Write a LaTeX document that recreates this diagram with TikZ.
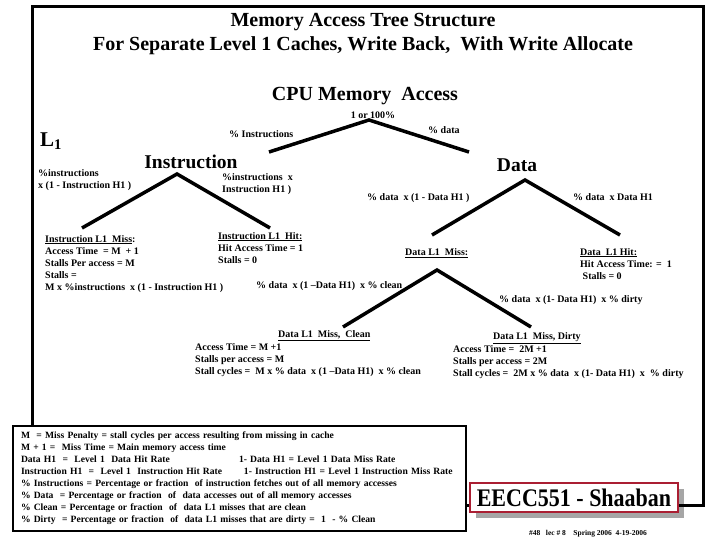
\documentclass[tikz,border=0pt]{standalone}
\usepackage{fontspec}
\setmainfont{Liberation Serif}
\usetikzlibrary{positioning,shadows}
\definecolor{boxred}{RGB}{170,30,50}
\tikzset{
  branch/.style={line width=3.5pt},
  txt/.style={font=\bfseries\fontsize{10}{12}\selectfont, inner sep=0pt, align=left},
  head/.style={font=\bfseries\fontsize{20}{24}\selectfont, inner sep=0pt},
  level/.style={font=\bfseries\fontsize{19.5}{22}\selectfont, inner sep=0pt},
}

\begin{document}
\begin{tikzpicture}[x=1pt,y=-1pt]
\useasboundingbox (0,0) rectangle (720,540);
% titles
\node[head] (title1) at (363,22) {Memory Access Tree Structure};
\node[head] (title2) at (363,46) {For Separate Level 1 Caches, Write Back,\ \ With Write Allocate};
\node[head] (cpu) at (365,96) {CPU Memory\ \ Access};
\node[txt] (all) at (373,115) {1 or 100\%};
\node[font=\bfseries\fontsize{21}{24}\selectfont, inner sep=0pt, anchor=west] (lone) at (40,141) {L$_{\mathbf 1}$};

% tree
\coordinate (root) at (369,120);
\coordinate (rootl) at (269,152);
\coordinate (rootr) at (469,152);
\coordinate (iapex) at (177,174);
\coordinate (imiss) at (82,228);
\coordinate (ihit) at (270,228);
\coordinate (dapex) at (525,180);
\coordinate (dmiss) at (432,235);
\coordinate (dhit) at (620,235);
\coordinate (mapex) at (437,270);
\coordinate (mclean) at (343,327);
\coordinate (mdirty) at (531,327);
\draw[branch] (rootl) -- (root) -- (rootr);
\draw[branch] (imiss) -- (iapex) -- (ihit);
\draw[branch] (dmiss) -- (dapex) -- (dhit);
\draw[branch] (mclean) -- (mapex) -- (mdirty);

\node[txt, anchor=west] (pinst) at (229,134) {\% Instructions};
\node[txt, anchor=west] (pdata) at (428,130) {\% data};
\node[level] (instr) at (191,162) {Instruction};
\node[level] (data) at (517,165) {Data};
\node[txt, anchor=north west] (pimiss) at (38,169) {\%instructions\\x (1 - Instruction H1 )};
\node[txt, anchor=north west] (pihit) at (222,173) {\%instructions\ \ x\\Instruction H1 )};
\node[txt, anchor=west] (pdmiss) at (367,198) {\% data\ \ x (1 - Data H1 )};
\node[txt, anchor=west] (pdhit) at (573,197) {\% data\ \ x Data H1};

% leaves
\node[txt, anchor=north west] (imissbox) at (45,235) {\underline{Instruction L1\ \ Miss}:\\
  Access Time\ \ = M\ \ + 1\\Stalls Per access = M\\Stalls =\\
  M x \%instructions\ \ x (1 - Instruction H1 )};
\node[txt, anchor=north west] (ihitbox) at (218,232) {\underline{Instruction L1\ \ Hit:}\\
  Hit Access Time = 1\\Stalls = 0};
\node[txt, anchor=west] (dmisslbl) at (405,253) {\underline{Data L1\ \ Miss:}};
\node[txt, anchor=north west] (dhitbox) at (580,248) {\underline{Data\ \ L1 Hit:}\\
  Hit Access Time: =\ \ 1\\\ Stalls = 0};
\node[txt, anchor=west] (pclean) at (256,286) {\% data\ \ x (1 --Data H1)\ \ x \% clean};
\node[txt, anchor=west] (pdirty) at (499,300) {\% data\ \ x (1- Data H1)\ \ x \% dirty};
\node[txt, anchor=west] (cleanlbl) at (278,336) {\underline{Data L1\ \ Miss,\ \ Clean}};
\node[txt, anchor=north west] (cleanbox) at (195,343) {Access Time = M +1\\Stalls per access = M\\
  Stall cycles =\ \ M x \% data\ \ x (1 --Data H1)\ \ x \% clean};
\node[txt, anchor=west] (dirtylbl) at (493,338) {\underline{Data L1\ \ Miss, Dirty}};
\node[txt, anchor=north west] (dirtybox) at (453,345) {Access Time =\ \ 2M +1\\Stalls per access = 2M\\
  Stall cycles =\ \ 2M x \% data\ \ x (1- Data H1)\ \ x\ \ \% dirty};

% legend
\node[draw, line width=2pt, anchor=north west, minimum width=453pt, minimum height=105pt,
  inner xsep=8pt, text width=437pt, align=left, font=\bfseries\fontsize{9.6}{12}\selectfont] (legend) at (12,425)
  {M\ \ = Miss Penalty = stall cycles per access resulting from missing in cache\\
   M + 1 =\ \ Miss Time = Main memory access time\\
   \makebox[218pt][l]{Data H1\ \ =\ \ Level 1\ \ Data Hit Rate}1- Data H1 = Level 1 Data Miss Rate\\
   \makebox[223pt][l]{Instruction H1\ \ =\ \ Level 1\ \ Instruction Hit Rate}1- Instruction H1 = Level 1 Instruction Miss Rate\\
   \% Instructions = Percentage or fraction\ \ of instruction fetches out of all memory accesses\\
   \% Data\ \ = Percentage or fraction\ \ of\ \ data accesses out of all memory accesses\\
   \% Clean = Percentage or fraction\ \ of\ \ data L1 misses that are clean\\
   \% Dirty\ \ = Percentage or fraction\ \ of\ \ data L1 misses that are dirty =\ \ 1\ \ - \% Clean};

% footer box
\node[draw=boxred, line width=1.5pt, fill=white, minimum width=208pt, minimum height=29pt,
  drop shadow={shadow xshift=6pt, shadow yshift=-6pt, fill=gray!70, opacity=1},
  font=\bfseries\fontsize{22}{26}\selectfont] (eecc) at (574,497.5) {\scalebox{1}[1.15]{EECC551 - Shaaban}};
\node[font=\bfseries\fontsize{7.5}{9}\selectfont, inner sep=0pt] (foot) at (588,534) {\#48\ \ \ lec \# 8\ \ \ \ Spring 2006\ \ 4-19-2006};

% frame
\draw[line width=3pt] (legend.north -| 32,0) -- (32,7) -- (703,7) -- (703,505) -- (eecc.east |- 0,505);
\draw[line width=3pt] (legend.east |- 0,505) -- (eecc.west |- 0,505);
\end{tikzpicture}
\end{document}
